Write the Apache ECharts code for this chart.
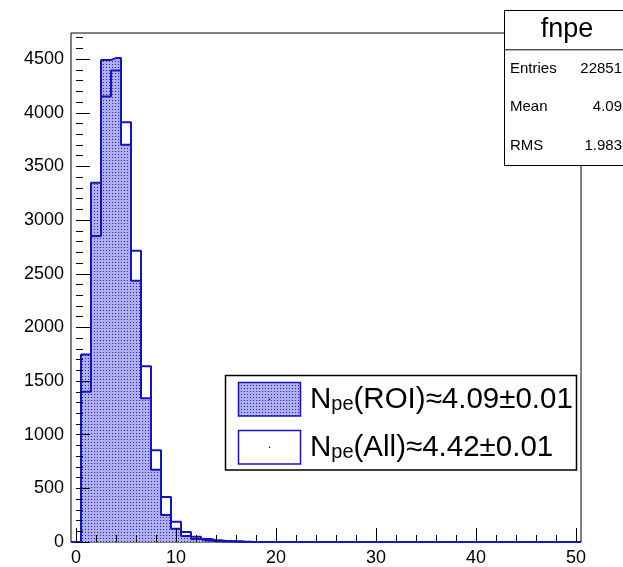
<!DOCTYPE html>
<html>
<head>
<meta charset="utf-8">
<script src="https://cdn.jsdelivr.net/npm/echarts@6/dist/echarts.min.js"></script>
<style>
html,body{margin:0;padding:0;background:#fff;}
#chart{width:623px;height:567px;}
</style>
</head>
<body>
<div id="chart"></div>
<script>
// ---- data ----
const binCenters = [0,1,2,3,4,5,6,7,8,9,10,11,12,13,14,15,16,17,18,19,20,21,22,23,24,25,26,27,28,29,30,31,32,33,34,35,36,37,38,39,40,41,42,43,44,45,46,47,48,49,50];
const roiCounts = [0,1747,3349,4493,4510,3702,2436,1339,674,251,123,56,28,14,8,5,3,1,0,0,0,0,0,0,0,0,0,0,0,0,0,0,0,0,0,0,0,0,0,0,0,0,0,0,0,0,0,0,0,0,0];
const allCounts = [0,1401,2851,4153,4394,3912,2715,1638,854,420,188,93,50,28,16,10,6,3,1,0,0,0,0,0,0,0,0,0,0,0,0,0,0,0,0,0,0,0,0,0,0,0,0,0,0,0,0,0,0,0,0];
const xMin = -0.5, xMax = 50.5;
const yMin = 0, yMax = 4744;
const xMajorTicks = [0,10,20,30,40,50];
const xMinorTicks = [0,2,4,6,8,10,12,14,16,18,20,22,24,26,28,30,32,34,36,38,40,42,44,46,48,50];
const yMajorTicks = [0,500,1000,1500,2000,2500,3000,3500,4000,4500];
const yMinorTicks = [0,100,200,300,400,500,600,700,800,900,1000,1100,1200,1300,1400,1500,1600,1700,1800,1900,2000,2100,2200,2300,2400,2500,2600,2700,2800,2900,3000,3100,3200,3300,3400,3500,3600,3700,3800,3900,4000,4100,4200,4300,4400,4500,4600,4700];
const statsTitle = 'fnpe';
const statsRows = [['Entries','22851'],['Mean','4.09'],['RMS','1.983']];
const legendRoi = {name:'N', sub:'pe', rest:'(ROI)≈4.09±0.01'};
const legendAll = {name:'N', sub:'pe', rest:'(All)≈4.42±0.01'};

// ---- styling ----
const FONT = '"Liberation Sans", Arial, Helvetica, sans-serif';
const BLUE = '#1414c0';

function makePattern(){
  const c = document.createElement('canvas');
  c.width = 3; c.height = 3;
  const g = c.getContext('2d');
  g.fillStyle = '#b0b0ee'; g.fillRect(0,0,3,3);
  g.fillStyle = '#2020d0'; g.fillRect(1,1,1,1);
  return c;
}
const pattern = {image: makePattern(), repeat: 'repeat'};

function toSteps(vals){
  const d = [[xMin, 0]];
  binCenters.forEach((x,i)=>d.push([x, vals[i]]));
  d.push([xMax, 0]);
  return d;
}
const plain = v => String(v);

const chart = echarts.init(document.getElementById('chart'), null, {renderer:'canvas'});

const statsX = 504, statsY = 10, statsW = 135, statsH = 155, statsTitleH = 39.3;
const rowH = (statsH - statsTitleH) / statsRows.length;
const statsGraphics = [
  {type:'rect', z:100, shape:{x:statsX+0.5, y:statsY+0.5, width:statsW, height:statsH}, style:{fill:'#fff', stroke:'#000', lineWidth:1}},
  {type:'line', z:101, shape:{x1:statsX, y1:statsY+statsTitleH+0.5, x2:623, y2:statsY+statsTitleH+0.5}, style:{stroke:'#000', lineWidth:1}},
  {type:'text', z:101, style:{text:statsTitle, x:567, y:statsY+statsTitleH/2, align:'center', verticalAlign:'middle', font:'27px '+FONT, fill:'#000'}}
];
statsRows.forEach((r,i)=>{
  const cy = statsY + statsTitleH + rowH*(i+0.5);
  statsGraphics.push({type:'text', z:101, style:{text:r[0], x:510, y:cy, align:'left', verticalAlign:'middle', font:'15px '+FONT, fill:'#000'}});
  statsGraphics.push({type:'text', z:101, style:{text:r[1], x:622, y:cy, align:'right', verticalAlign:'middle', font:'15px '+FONT, fill:'#000'}});
});

const richStyle = {
  n:{fontSize:29.5, fontFamily:FONT, color:'#000', lineHeight:30},
  s:{fontSize:20, fontFamily:FONT, color:'#000', lineHeight:14, verticalAlign:'bottom'}
};
function legendText(e){ return '{n|'+e.name+'}{s|'+e.sub+'}{n|'+e.rest+'}'; }

const legendGraphics = [
  {type:'rect', z:100, shape:{x:225.5, y:375.5, width:351, height:94.5}, style:{fill:'#fff', stroke:'#000', lineWidth:1.5}},
  {type:'rect', z:101, shape:{x:238.5, y:382.5, width:62, height:33.5}, style:{fill:pattern, stroke:BLUE, lineWidth:1.5}},
  {type:'circle', z:102, shape:{cx:269.5, cy:399.2, r:0.8}, style:{fill:'#000'}},
  {type:'text', z:101, style:{text:legendText(legendRoi), x:310, y:399.5, align:'left', verticalAlign:'middle', rich:richStyle}},
  {type:'rect', z:101, shape:{x:238.5, y:430.5, width:62, height:33.5}, style:{fill:'#fff', stroke:BLUE, lineWidth:1.5}},
  {type:'circle', z:102, shape:{cx:269.5, cy:447.2, r:0.8}, style:{fill:'#000'}},
  {type:'text', z:101, style:{text:legendText(legendAll), x:310, y:447.5, align:'left', verticalAlign:'middle', rich:richStyle}}
];

const option = {
  animation:false,
  backgroundColor:'#fff',
  grid:{left:71, top:33, width:510, height:511, show:true, borderColor:'#000', borderWidth:1, backgroundColor:'transparent'},
  xAxis:[
    {type:'value', min:xMin, max:xMax, z:5,
     axisLine:{show:false}, splitLine:{show:false},
     axisTick:{show:true, inside:true, length:14, customValues:xMajorTicks, lineStyle:{color:'#000', width:1}},
     axisLabel:{show:true, customValues:xMajorTicks, formatter:plain, margin:7, fontSize:18, fontFamily:FONT, color:'#000'}},
    {type:'value', min:xMin, max:xMax, z:5, position:'bottom',
     axisLine:{show:false}, splitLine:{show:false}, axisLabel:{show:false},
     axisTick:{show:true, inside:true, length:7, customValues:xMinorTicks, lineStyle:{color:'#000', width:1}}}
  ],
  yAxis:[
    {type:'value', min:yMin, max:yMax, z:5, position:'left',
     axisLine:{show:false}, splitLine:{show:false},
     axisTick:{show:true, inside:true, length:14, customValues:yMajorTicks, lineStyle:{color:'#000', width:1}},
     axisLabel:{show:true, customValues:yMajorTicks, formatter:plain, margin:7, fontSize:18, fontFamily:FONT, color:'#000'}},
    {type:'value', min:yMin, max:yMax, z:5, position:'left', offset:0,
     axisLine:{show:false}, splitLine:{show:false}, axisLabel:{show:false},
     axisTick:{show:true, inside:true, length:7, customValues:yMinorTicks, lineStyle:{color:'#000', width:1}}}
  ],
  series:[
    {name:'Npe(ROI)', type:'line', step:'middle', xAxisIndex:0, yAxisIndex:0, symbol:'none', z:2,
     data:toSteps(roiCounts),
     lineStyle:{color:BLUE, width:2},
     areaStyle:{color:pattern, opacity:1}},
    {name:'Npe(All)', type:'line', step:'middle', xAxisIndex:0, yAxisIndex:0, symbol:'none', z:3,
     data:toSteps(allCounts),
     lineStyle:{color:BLUE, width:2}}
  ],
  graphic:{elements: statsGraphics.concat(legendGraphics)}
};
chart.setOption(option);
</script>
</body>
</html>
